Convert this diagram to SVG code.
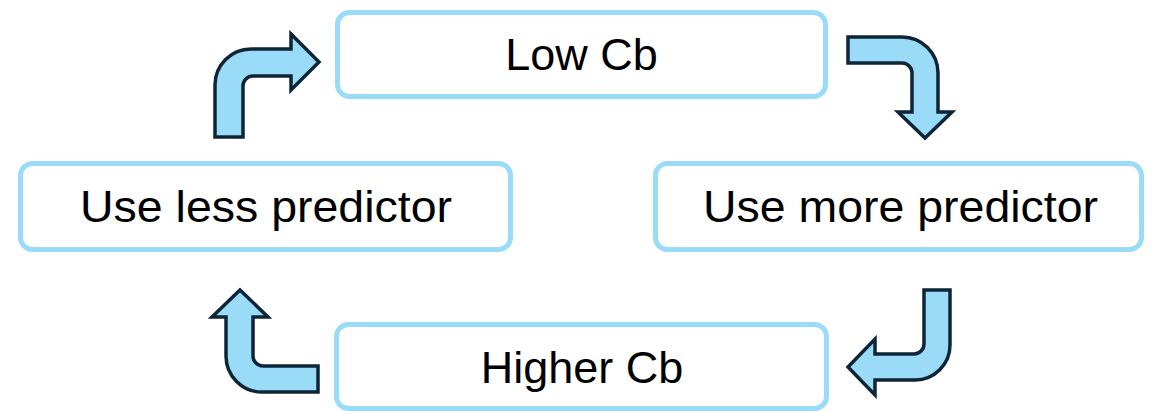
<svg xmlns="http://www.w3.org/2000/svg" width="1153" height="411" viewBox="0 0 1153 411">
  <style>
    .box { fill: #ffffff; stroke: #9adcf8; stroke-width: 5; }
    .label { font-family: "Liberation Sans", Arial, sans-serif; font-size: 45px; fill: #000000; text-anchor: middle; }
    .arrow { fill: #9adcf8; stroke: #0e2537; stroke-width: 3.5; stroke-linejoin: miter; }
  </style>
  <rect width="1153" height="411" fill="#ffffff"/>

  <g id="node-low-cb">
    <rect class="box" x="337.5" y="12.5" width="488" height="84" rx="12"/>
    <text class="label" x="581.5" y="70">Low Cb</text>
  </g>
  <g id="node-use-less">
    <rect class="box" x="20.5" y="163.5" width="490" height="86" rx="12"/>
    <text class="label" x="266" y="222" textLength="372" lengthAdjust="spacingAndGlyphs">Use less predictor</text>
  </g>
  <g id="node-use-more">
    <rect class="box" x="655.5" y="163.5" width="486" height="86" rx="12"/>
    <text class="label" x="900.5" y="222" textLength="395" lengthAdjust="spacingAndGlyphs">Use more predictor</text>
  </g>
  <g id="node-higher-cb">
    <rect class="box" x="336.5" y="324.5" width="490" height="84" rx="12"/>
    <text class="label" x="582" y="383">Higher Cb</text>
  </g>

  <g id="connectors">
    <!-- use less -> low Cb -->
    <path class="arrow" d="M 215 137 L 215 85 A 36 36 0 0 1 251 49 L 291 49 L 291 34 L 319 62 L 291 90 L 291 76 L 253 76 A 10 10 0 0 0 243 86 L 243 137 Z"/>
    <!-- low Cb -> use more -->
    <path class="arrow" d="M 848 37 L 902 37 A 36 36 0 0 1 938 73 L 938 112 L 952 112 L 925 138 L 898 112 L 912 112 L 912 73 A 10 10 0 0 0 902 63 L 848 63 Z"/>
    <!-- use more -> higher Cb -->
    <path class="arrow" d="M 924 290 L 950 290 L 950 345 A 35 35 0 0 1 915 380 L 875 380 L 875 395 L 848 367 L 875 339 L 875 354 L 914 354 A 10 10 0 0 0 924 344 Z"/>
    <!-- higher Cb -> use less -->
    <path class="arrow" d="M 318 366 L 318 392 L 262 392 A 36 36 0 0 1 226 356 L 226 317 L 212 317 L 240 290 L 268 317 L 253 317 L 253 356 A 10 10 0 0 0 263 366 Z"/>
  </g>
</svg>
